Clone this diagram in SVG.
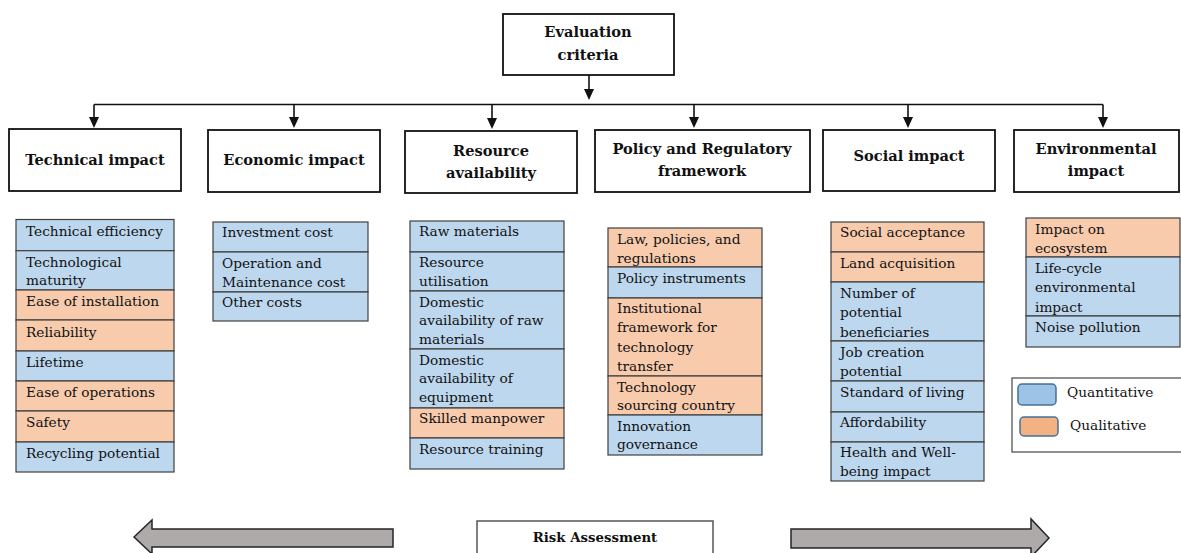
<svg xmlns="http://www.w3.org/2000/svg" width="1181" height="553" viewBox="0 0 1181 553">
<style>
.hd{font-family:"DejaVu Serif","Liberation Serif",serif;font-weight:bold;font-size:14.6px;fill:#111;text-anchor:middle}
.it{font-family:"DejaVu Serif","Liberation Serif",serif;font-size:13.7px;fill:#111}
.box{fill:#fff;stroke:#111;stroke-width:1.8}
.b{fill:#bdd7ee;stroke:#404040;stroke-width:1.2}
.p{fill:#f8cbad;stroke:#404040;stroke-width:1.2}
.ln{stroke:#111;stroke-width:1.6;fill:none}
.ah{fill:#111}
.arr{fill:#aeaaaa;stroke:#262626;stroke-width:1.5}
</style>
<rect width="1181" height="553" fill="#fff"/>

<g id="connectors">
<path class="ln" d="M94,104.5 H1103"/>
<line class="ln" x1="589" y1="75" x2="589" y2="89"/>
<path class="ah" d="M584,89 L594,89 L589,100 Z"/>
<line class="ln" x1="94" y1="104.5" x2="94" y2="117"/>
<path class="ah" d="M89,117 L99,117 L94,128 Z"/>
<line class="ln" x1="294" y1="104.5" x2="294" y2="117"/>
<path class="ah" d="M289,117 L299,117 L294,128 Z"/>
<line class="ln" x1="492" y1="104.5" x2="492" y2="118"/>
<path class="ah" d="M487,118 L497,118 L492,129 Z"/>
<line class="ln" x1="694" y1="104.5" x2="694" y2="117"/>
<path class="ah" d="M689,117 L699,117 L694,128 Z"/>
<line class="ln" x1="908" y1="104.5" x2="908" y2="117"/>
<path class="ah" d="M903,117 L913,117 L908,128 Z"/>
<line class="ln" x1="1103" y1="104.5" x2="1103" y2="117"/>
<path class="ah" d="M1098,117 L1108,117 L1103,128 Z"/>
</g>

<g id="evaluation-criteria">
<rect class="box" x="503" y="14" width="171" height="61"/>
<text class="hd" x="588" y="37">Evaluation</text>
<text class="hd" x="588" y="60">criteria</text>
</g>

<g id="technical-impact">
<rect class="box" x="9" y="129" width="172" height="62"/>
<text class="hd" x="95" y="165">Technical impact</text>
</g>
<g id="economic-impact">
<rect class="box" x="208" y="130" width="172" height="62"/>
<text class="hd" x="294" y="165">Economic impact</text>
</g>
<g id="resource-availability">
<rect class="box" x="405" y="131" width="172" height="62"/>
<text class="hd" x="491" y="156">Resource</text>
<text class="hd" x="491" y="178">availability</text>
</g>
<g id="policy-regulatory">
<rect class="box" x="595" y="130" width="215" height="62"/>
<text class="hd" x="702" y="154">Policy and Regulatory</text>
<text class="hd" x="702" y="176">framework</text>
</g>
<g id="social-impact">
<rect class="box" x="823" y="130" width="172" height="61"/>
<text class="hd" x="909" y="161">Social impact</text>
</g>
<g id="environmental-impact">
<rect class="box" x="1014" y="130" width="165" height="62"/>
<text class="hd" x="1096" y="154">Environmental</text>
<text class="hd" x="1096" y="176">impact</text>
</g>

<g id="technical-list">
<rect class="b" x="16" y="219.5" width="158" height="31.2"/>
<rect class="b" x="16" y="250.7" width="158" height="39.3"/>
<rect class="p" x="16" y="290" width="158" height="30"/>
<rect class="p" x="16" y="320" width="158" height="31"/>
<rect class="b" x="16" y="351" width="158" height="30"/>
<rect class="p" x="16" y="381" width="158" height="30"/>
<rect class="p" x="16" y="411" width="158" height="31"/>
<rect class="b" x="16" y="442" width="158" height="30"/>
<text class="it" x="26" y="236">Technical efficiency</text>
<text class="it" x="26" y="267">Technological</text>
<text class="it" x="26" y="285">maturity</text>
<text class="it" x="26" y="306">Ease of installation</text>
<text class="it" x="26" y="337">Reliability</text>
<text class="it" x="26" y="367">Lifetime</text>
<text class="it" x="26" y="397">Ease of operations</text>
<text class="it" x="26" y="427">Safety</text>
<text class="it" x="26" y="458">Recycling potential</text>
</g>

<g id="economic-list">
<rect class="b" x="213" y="222" width="155" height="30"/>
<rect class="b" x="213" y="252" width="155" height="40"/>
<rect class="b" x="213" y="292" width="155" height="29"/>
<text class="it" x="222" y="237">Investment cost</text>
<text class="it" x="222" y="268">Operation and</text>
<text class="it" x="222" y="287">Maintenance cost</text>
<text class="it" x="222" y="307">Other costs</text>
</g>

<g id="resource-list">
<rect class="b" x="410" y="221" width="154" height="31"/>
<rect class="b" x="410" y="252" width="154" height="39"/>
<rect class="b" x="410" y="291" width="154" height="58"/>
<rect class="b" x="410" y="349" width="154" height="59"/>
<rect class="p" x="410" y="408" width="154" height="30"/>
<rect class="b" x="410" y="438" width="154" height="31"/>
<text class="it" x="419" y="236">Raw materials</text>
<text class="it" x="419" y="267">Resource</text>
<text class="it" x="419" y="286">utilisation</text>
<text class="it" x="419" y="307">Domestic</text>
<text class="it" x="419" y="325">availability of raw</text>
<text class="it" x="419" y="344">materials</text>
<text class="it" x="419" y="365">Domestic</text>
<text class="it" x="419" y="383">availability of</text>
<text class="it" x="419" y="402">equipment</text>
<text class="it" x="419" y="423">Skilled manpower</text>
<text class="it" x="419" y="454">Resource training</text>
</g>

<g id="policy-list">
<rect class="p" x="608" y="228" width="154" height="39"/>
<rect class="b" x="608" y="267" width="154" height="31"/>
<rect class="p" x="608" y="298" width="154" height="78"/>
<rect class="p" x="608" y="376" width="154" height="39"/>
<rect class="b" x="608" y="415" width="154" height="40"/>
<text class="it" x="617" y="244">Law, policies, and</text>
<text class="it" x="617" y="263">regulations</text>
<text class="it" x="617" y="283">Policy instruments</text>
<text class="it" x="617" y="313">Institutional</text>
<text class="it" x="617" y="332">framework for</text>
<text class="it" x="617" y="352">technology</text>
<text class="it" x="617" y="371">transfer</text>
<text class="it" x="617" y="392">Technology</text>
<text class="it" x="617" y="410">sourcing country</text>
<text class="it" x="617" y="431">Innovation</text>
<text class="it" x="617" y="449">governance</text>
</g>

<g id="social-list">
<rect class="p" x="831" y="222" width="153" height="30"/>
<rect class="p" x="831" y="252" width="153" height="30"/>
<rect class="b" x="831" y="282" width="153" height="59"/>
<rect class="b" x="831" y="341" width="153" height="40"/>
<rect class="b" x="831" y="381" width="153" height="31"/>
<rect class="b" x="831" y="412" width="153" height="30"/>
<rect class="b" x="831" y="442" width="153" height="39"/>
<text class="it" x="840" y="237">Social acceptance</text>
<text class="it" x="840" y="268">Land acquisition</text>
<text class="it" x="840" y="298">Number of</text>
<text class="it" x="840" y="317">potential</text>
<text class="it" x="840" y="337">beneficiaries</text>
<text class="it" x="840" y="357">Job creation</text>
<text class="it" x="840" y="376">potential</text>
<text class="it" x="840" y="397">Standard of living</text>
<text class="it" x="840" y="427">Affordability</text>
<text class="it" x="840" y="457">Health and Well-</text>
<text class="it" x="840" y="476">being impact</text>
</g>

<g id="environmental-list">
<rect class="p" x="1026" y="218" width="154" height="39"/>
<rect class="b" x="1026" y="257" width="154" height="59"/>
<rect class="b" x="1026" y="316" width="154" height="31"/>
<text class="it" x="1035" y="234">Impact on</text>
<text class="it" x="1035" y="253">ecosystem</text>
<text class="it" x="1035" y="273">Life-cycle</text>
<text class="it" x="1035" y="292">environmental</text>
<text class="it" x="1035" y="312">impact</text>
<text class="it" x="1035" y="332">Noise pollution</text>
</g>

<g id="legend">
<rect x="1012" y="378" width="175" height="74" fill="#fff" stroke="#555" stroke-width="1.3"/>
<rect x="1018" y="384" width="38" height="21" rx="4" fill="#9dc3e6" stroke="#41719c" stroke-width="1.5"/>
<rect x="1020" y="417" width="38" height="19" rx="4" fill="#f4b183" stroke="#41719c" stroke-width="1.5"/>
<text class="it" x="1067" y="397">Quantitative</text>
<text class="it" x="1070" y="430">Qualitative</text>
</g>

<g id="risk-assessment">
<polygon class="arr" points="134,537 152,520 152,529 393,529 393,547 152,547 152,554"/>
<polygon class="arr" points="1049,538 1031,519 1031,529 791,529 791,548 1031,548 1031,557"/>
<rect x="477" y="521" width="236" height="40" fill="#fff" stroke="#555" stroke-width="1.5"/>
<text class="hd" x="595" y="542" style="font-size:13.3px">Risk Assessment</text>
</g>
</svg>
